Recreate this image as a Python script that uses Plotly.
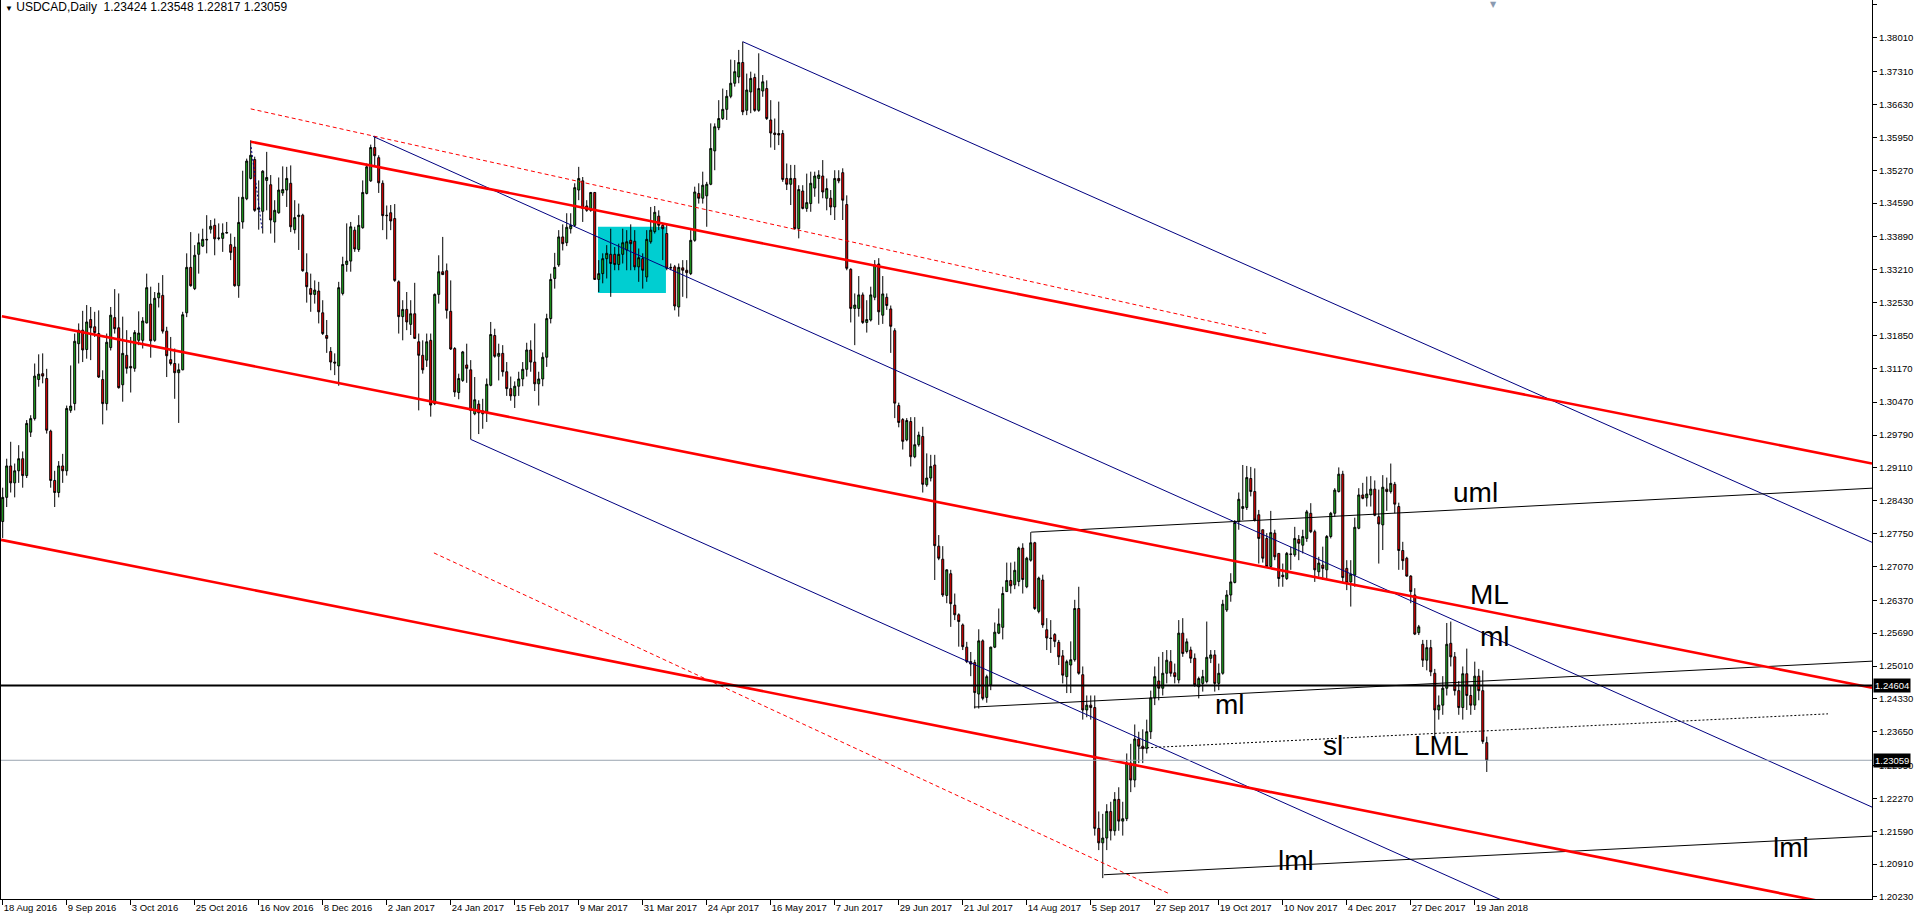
import plotly.graph_objects as go

# ---------------- data ----------------
tick_bars = [0, 16, 32, 48, 64, 80, 96, 112, 128, 144, 160, 176, 192, 208, 224, 240,
             256, 272, 288, 304, 320, 336, 352, 368]
tick_labels = ["18 Aug 2016", "9 Sep 2016", "3 Oct 2016", "25 Oct 2016", "16 Nov 2016",
               "8 Dec 2016", "2 Jan 2017", "24 Jan 2017", "15 Feb 2017", "9 Mar 2017",
               "31 Mar 2017", "24 Apr 2017", "16 May 2017", "7 Jun 2017", "29 Jun 2017",
               "21 Jul 2017", "14 Aug 2017", "5 Sep 2017", "27 Sep 2017", "19 Oct 2017",
               "10 Nov 2017", "4 Dec 2017", "27 Dec 2017", "19 Jan 2018"]
price_ticks = [1.38690, 1.38010, 1.37310, 1.36630, 1.35950, 1.35270, 1.34590, 1.33890,
               1.33210, 1.32530, 1.31850, 1.31170, 1.30470, 1.29790, 1.29110, 1.28430,
               1.27750, 1.27070, 1.26370, 1.25690, 1.25010, 1.24330, 1.23650, 1.22950,
               1.22270, 1.21590, 1.20910, 1.20230]

opens = [
 1.2800, 1.2850, 1.2915, 1.2880, 1.2905, 1.2930, 1.2895, 1.2985, 1.3013, 1.3094,
 1.3106, 1.3096, 1.2987, 1.2885, 1.2860, 1.2915, 1.2905, 1.3030, 1.3044, 1.3168,
 1.3196, 1.3156, 1.3218, 1.3203, 1.3189, 1.3094, 1.3044, 1.3160, 1.3222, 1.3201,
 1.3083, 1.3144, 1.3121, 1.3117, 1.3175, 1.3175, 1.3211, 1.3250, 1.3175, 1.3263,
 1.3268, 1.3194, 1.3135, 1.3127, 1.3108, 1.3114, 1.3232, 1.3326, 1.3282, 1.3353,
 1.3370, 1.3384, 1.3405, 1.3413, 1.3387, 1.3386, 1.3397, 1.3373, 1.3368, 1.3288,
 1.3420, 1.3468, 1.3510, 1.3549, 1.3446, 1.3442, 1.3506, 1.3497, 1.3420, 1.3439,
 1.3480, 1.3486, 1.3500, 1.3404, 1.3431, 1.3434, 1.3315, 1.3282, 1.3270, 1.3277,
 1.3232, 1.3185, 1.3152, 1.3130, 1.3122, 1.3272, 1.3332, 1.3339, 1.3403, 1.3363,
 1.3408, 1.3479, 1.3505, 1.3574, 1.3553, 1.3500, 1.3434, 1.3439, 1.3427, 1.3296,
 1.3224, 1.3239, 1.3208, 1.3230, 1.3172, 1.3144, 1.3134, 1.3175, 1.3044, 1.3270,
 1.3317, 1.3319, 1.3235, 1.3158, 1.3067, 1.3092, 1.3124, 1.3114, 1.3023, 1.3043,
 1.3023, 1.3025, 1.3082, 1.3185, 1.3142, 1.3148, 1.3110, 1.3075, 1.3060, 1.3080,
 1.3095, 1.3115, 1.3155, 1.3130, 1.3085, 1.3095, 1.3140, 1.3220, 1.3303, 1.3331,
 1.3389, 1.3377, 1.3406, 1.3413, 1.3486, 1.3505, 1.3453, 1.3444, 1.3481, 1.3301,
 1.3313, 1.3344, 1.3353, 1.3353, 1.3332, 1.3353, 1.3362, 1.3382, 1.3380, 1.3327,
 1.3344, 1.3306, 1.3379, 1.3400, 1.3432, 1.3413, 1.3396, 1.3326, 1.3327, 1.3244,
 1.3325, 1.3320, 1.3313, 1.3382, 1.3479, 1.3469, 1.3474, 1.3498, 1.3567, 1.3615,
 1.3634, 1.3653, 1.3680, 1.3707, 1.3720, 1.3750, 1.3651, 1.3689, 1.3719, 1.3651,
 1.3691, 1.3696, 1.3631, 1.3604, 1.3603, 1.3603, 1.3510, 1.3498, 1.3510, 1.3406,
 1.3484, 1.3448, 1.3458, 1.3490, 1.3510, 1.3515, 1.3469, 1.3469, 1.3451, 1.3510,
 1.3522, 1.3456, 1.3322, 1.3241, 1.3241, 1.3269, 1.3212, 1.3217, 1.3264, 1.3333,
 1.3227, 1.3264, 1.3240, 1.3195, 1.3040, 1.3011, 1.2969, 1.3007, 1.2934, 1.2959,
 1.2976, 1.2876, 1.2890, 1.2917, 1.2749, 1.2722, 1.2647, 1.2692, 1.2627, 1.2607,
 1.2586, 1.2540, 1.2510, 1.2508, 1.2443, 1.2553, 1.2436, 1.2462, 1.2540, 1.2569,
 1.2581, 1.2655, 1.2678, 1.2669, 1.2676, 1.2745, 1.2665, 1.2720, 1.2756, 1.2614,
 1.2679, 1.2576, 1.2559, 1.2566, 1.2550, 1.2522, 1.2479, 1.2503, 1.2514, 1.2620,
 1.2483, 1.2410, 1.2420, 1.2415, 1.2165, 1.2135, 1.2145, 1.2200, 1.2160, 1.2225,
 1.2180, 1.2185, 1.2300, 1.2265, 1.2350, 1.2335, 1.2330, 1.2365, 1.2435, 1.2470,
 1.2455, 1.2486, 1.2510, 1.2487, 1.2472, 1.2569, 1.2531, 1.2534, 1.2517, 1.2458,
 1.2465, 1.2469, 1.2517, 1.2524, 1.2465, 1.2486, 1.2617, 1.2648, 1.2674, 1.2800,
 1.2827, 1.2829, 1.2889, 1.2862, 1.2814, 1.2783, 1.2765, 1.2707, 1.2776, 1.2734,
 1.2689, 1.2682, 1.2733, 1.2731, 1.2763, 1.2751, 1.2765, 1.2817, 1.2779, 1.2696,
 1.2710, 1.2700, 1.2769, 1.2817, 1.2862, 1.2898, 1.2703, 1.2675, 1.2689, 1.2786,
 1.2855, 1.2849, 1.2855, 1.2867, 1.2810, 1.2793, 1.2867, 1.2862, 1.2877, 1.2831,
 1.2740, 1.2724, 1.2687, 1.2648, 1.2570, 1.2546, 1.2513, 1.2539, 1.2486, 1.2410,
 1.2420, 1.2455, 1.2548, 1.2520, 1.2450, 1.2415, 1.2485, 1.2440, 1.2420, 1.2480,
 1.2450, 1.23424]

highs = [
 1.2870, 1.2930, 1.2965, 1.2920, 1.2958, 1.2945, 1.3010, 1.3020, 1.3127, 1.3146,
 1.3148, 1.3116, 1.2990, 1.2905, 1.2925, 1.2940, 1.3040, 1.3123, 1.3189, 1.3210,
 1.3236, 1.3248, 1.3244, 1.3234, 1.3237, 1.3113, 1.3189, 1.3244, 1.3281, 1.3272,
 1.3224, 1.3196, 1.3182, 1.3196, 1.3235, 1.3223, 1.3313, 1.3286, 1.3275, 1.3294,
 1.3310, 1.3203, 1.3182, 1.3158, 1.3127, 1.3234, 1.3355, 1.3399, 1.3372, 1.3396,
 1.3406, 1.3434, 1.3424, 1.3427, 1.3417, 1.3417, 1.3420, 1.3396, 1.3389, 1.3472,
 1.3526, 1.3551, 1.3589, 1.3555, 1.3506, 1.3527, 1.3565, 1.3517, 1.3465, 1.3512,
 1.3535, 1.3534, 1.3537, 1.3465, 1.3458, 1.3437, 1.3355, 1.3313, 1.3299, 1.3296,
 1.3258, 1.3217, 1.3161, 1.3148, 1.3296, 1.3348, 1.3417, 1.3420, 1.3410, 1.3434,
 1.3506, 1.3541, 1.3580, 1.3597, 1.3558, 1.3506, 1.3454, 1.3455, 1.3457, 1.3299,
 1.3258, 1.3275, 1.3258, 1.3294, 1.3189, 1.3175, 1.3189, 1.3189, 1.3272, 1.3351,
 1.3389, 1.3334, 1.3299, 1.3161, 1.3106, 1.3153, 1.3168, 1.3134, 1.3099, 1.3051,
 1.3054, 1.3096, 1.3213, 1.3199, 1.3168, 1.3165, 1.3130, 1.3100, 1.3090, 1.3110,
 1.3130, 1.3170, 1.3175, 1.3210, 1.3110, 1.3150, 1.3230, 1.3313, 1.3356, 1.3403,
 1.3415, 1.3438, 1.3438, 1.3500, 1.3534, 1.3513, 1.3465, 1.3482, 1.3482, 1.3341,
 1.3355, 1.3372, 1.3406, 1.3368, 1.3375, 1.3406, 1.3403, 1.3415, 1.3403, 1.3365,
 1.3355, 1.3403, 1.3451, 1.3453, 1.3444, 1.3417, 1.3417, 1.3334, 1.3331, 1.3334,
 1.3341, 1.3341, 1.3403, 1.3493, 1.3500, 1.3524, 1.3503, 1.3624, 1.3624, 1.3672,
 1.3696, 1.3693, 1.3756, 1.3755, 1.3776, 1.3793, 1.3727, 1.3731, 1.3727, 1.3769,
 1.3724, 1.3713, 1.3672, 1.3634, 1.3669, 1.3610, 1.3541, 1.3538, 1.3538, 1.3496,
 1.3496, 1.3520, 1.3524, 1.3524, 1.3527, 1.3548, 1.3510, 1.3486, 1.3527, 1.3527,
 1.3531, 1.3475, 1.3324, 1.3272, 1.3308, 1.3274, 1.3258, 1.3286, 1.3341, 1.3345,
 1.3308, 1.3272, 1.3247, 1.3200, 1.3046, 1.3014, 1.3014, 1.3016, 1.3016, 1.2986,
 1.2996, 1.2941, 1.2938, 1.2938, 1.2772, 1.2749, 1.2701, 1.2700, 1.2651, 1.2610,
 1.2589, 1.2551, 1.2530, 1.2514, 1.2577, 1.2556, 1.2483, 1.2541, 1.2591, 1.2620,
 1.2665, 1.2715, 1.2715, 1.2717, 1.2748, 1.2755, 1.2727, 1.2778, 1.2758, 1.2686,
 1.2690, 1.2600, 1.2596, 1.2569, 1.2555, 1.2534, 1.2514, 1.2552, 1.2638, 1.2665,
 1.2500, 1.2440, 1.2440, 1.2440, 1.2200, 1.2195, 1.2215, 1.2220, 1.2240, 1.2250,
 1.2220, 1.2320, 1.2340, 1.2380, 1.2365, 1.2370, 1.2390, 1.2450, 1.2500, 1.2520,
 1.2530, 1.2534, 1.2534, 1.2506, 1.2596, 1.2600, 1.2558, 1.2541, 1.2527, 1.2479,
 1.2493, 1.2593, 1.2534, 1.2534, 1.2506, 1.2638, 1.2658, 1.2693, 1.2803, 1.2860,
 1.2917, 1.2915, 1.2913, 1.2910, 1.2824, 1.2783, 1.2776, 1.2822, 1.2783, 1.2734,
 1.2713, 1.2737, 1.2748, 1.2789, 1.2772, 1.2783, 1.2824, 1.2838, 1.2783, 1.2727,
 1.2748, 1.2772, 1.2820, 1.2869, 1.2912, 1.2905, 1.2720, 1.2720, 1.2808, 1.2869,
 1.2880, 1.2893, 1.2894, 1.2885, 1.2866, 1.2896, 1.2891, 1.2920, 1.2882, 1.2839,
 1.2758, 1.2727, 1.2689, 1.2662, 1.2586, 1.2555, 1.2555, 1.2555, 1.2495, 1.2440,
 1.2480, 1.2590, 1.2593, 1.2530, 1.2470, 1.2500, 1.2537, 1.2460, 1.2510, 1.2495,
 1.2492, 1.23548]

lows = [
 1.2766, 1.2830, 1.2860, 1.2850, 1.2880, 1.2870, 1.2890, 1.2975, 1.3009, 1.3079,
 1.3086, 1.2982, 1.2870, 1.2830, 1.2850, 1.2880, 1.2895, 1.3025, 1.3030, 1.3127,
 1.3130, 1.3137, 1.3134, 1.3182, 1.3097, 1.3001, 1.3030, 1.3154, 1.3189, 1.3075,
 1.3048, 1.3106, 1.3067, 1.3110, 1.3165, 1.3158, 1.3210, 1.3139, 1.3172, 1.3243,
 1.3189, 1.3099, 1.3123, 1.3054, 1.3004, 1.3113, 1.3223, 1.3286, 1.3279, 1.3313,
 1.3368, 1.3355, 1.3396, 1.3351, 1.3382, 1.3358, 1.3396, 1.3341, 1.3286, 1.3263,
 1.3406, 1.3465, 1.3508, 1.3441, 1.3404, 1.3396, 1.3444, 1.3396, 1.3377, 1.3437,
 1.3474, 1.3451, 1.3399, 1.3396, 1.3362, 1.3317, 1.3253, 1.3234, 1.3251, 1.3210,
 1.3186, 1.3149, 1.3113, 1.3103, 1.3081, 1.3268, 1.3317, 1.3317, 1.3358, 1.3358,
 1.3406, 1.3477, 1.3503, 1.3537, 1.3480, 1.3403, 1.3384, 1.3403, 1.3296, 1.3189,
 1.3175, 1.3196, 1.3186, 1.3179, 1.3030, 1.3106, 1.3120, 1.3017, 1.3041, 1.3251,
 1.3311, 1.3220, 1.3155, 1.3058, 1.3053, 1.3089, 1.3087, 1.2970, 1.3020, 1.2981,
 1.2992, 1.3006, 1.3080, 1.3139, 1.3092, 1.3100, 1.3060, 1.3050, 1.3035, 1.3060,
 1.3080, 1.3100, 1.3110, 1.3070, 1.3040, 1.3080, 1.3120, 1.3210, 1.3282, 1.3327,
 1.3361, 1.3370, 1.3396, 1.3410, 1.3465, 1.3420, 1.3441, 1.3441, 1.3300, 1.3275,
 1.3293, 1.3303, 1.3265, 1.3320, 1.3320, 1.3334, 1.3320, 1.3320, 1.3320, 1.3296,
 1.3282, 1.3296, 1.3375, 1.3396, 1.3403, 1.3341, 1.3320, 1.3320, 1.3237, 1.3224,
 1.3265, 1.3262, 1.3310, 1.3379, 1.3458, 1.3458, 1.3410, 1.3496, 1.3527, 1.3610,
 1.3631, 1.3631, 1.3676, 1.3700, 1.3707, 1.3641, 1.3641, 1.3645, 1.3648, 1.3648,
 1.3679, 1.3631, 1.3574, 1.3569, 1.3579, 1.3503, 1.3486, 1.3455, 1.3404, 1.3386,
 1.3446, 1.3441, 1.3441, 1.3472, 1.3458, 1.3469, 1.3444, 1.3434, 1.3424, 1.3500,
 1.3424, 1.3320, 1.3212, 1.3165, 1.3224, 1.3209, 1.3191, 1.3214, 1.3258, 1.3207,
 1.3209, 1.3238, 1.3149, 1.3014, 1.2995, 1.2949, 1.2966, 1.2914, 1.2931, 1.2955,
 1.2860, 1.2872, 1.2883, 1.2679, 1.2720, 1.2644, 1.2631, 1.2582, 1.2596, 1.2541,
 1.2534, 1.2507, 1.2480, 1.2413, 1.2413, 1.2430, 1.2425, 1.2451, 1.2538, 1.2567,
 1.2556, 1.2655, 1.2651, 1.2660, 1.2666, 1.2651, 1.2662, 1.2717, 1.2617, 1.2610,
 1.2580, 1.2534, 1.2528, 1.2540, 1.2503, 1.2465, 1.2445, 1.2445, 1.2510, 1.2483,
 1.2390, 1.2395, 1.2390, 1.2150, 1.2120, 1.2062, 1.2120, 1.2140, 1.2150, 1.2160,
 1.2150, 1.2180, 1.2240, 1.2250, 1.2300, 1.2300, 1.2320, 1.2350, 1.2420, 1.2430,
 1.2440, 1.2465, 1.2479, 1.2465, 1.2465, 1.2520, 1.2527, 1.2507, 1.2458, 1.2434,
 1.2448, 1.2465, 1.2507, 1.2448, 1.2451, 1.2483, 1.2613, 1.2634, 1.2672, 1.2783,
 1.2803, 1.2824, 1.2852, 1.2800, 1.2713, 1.2715, 1.2704, 1.2704, 1.2720, 1.2665,
 1.2665, 1.2679, 1.2700, 1.2727, 1.2720, 1.2734, 1.2758, 1.2776, 1.2675, 1.2686,
 1.2679, 1.2679, 1.2765, 1.2810, 1.2860, 1.2675, 1.2658, 1.2624, 1.2665, 1.2784,
 1.2846, 1.2831, 1.2831, 1.2811, 1.2713, 1.2741, 1.2822, 1.2858, 1.2817, 1.2700,
 1.2700, 1.2686, 1.2631, 1.2565, 1.2565, 1.2499, 1.2492, 1.2480, 1.2355, 1.2390,
 1.2400, 1.2440, 1.2500, 1.2440, 1.2400, 1.2390, 1.2410, 1.2400, 1.2410, 1.2430,
 1.2340, 1.22817]

closes = [
 1.2850, 1.2915, 1.2880, 1.2905, 1.2930, 1.2895, 1.3003, 1.3013, 1.3101, 1.3105,
 1.3101, 1.2989, 1.2885, 1.2860, 1.2915, 1.2905, 1.3034, 1.3039, 1.3173, 1.3196,
 1.3155, 1.3213, 1.3201, 1.3191, 1.3099, 1.3044, 1.3171, 1.3227, 1.3199, 1.3077,
 1.3148, 1.3117, 1.3118, 1.3191, 1.3190, 1.3215, 1.3284, 1.3174, 1.3262, 1.3273,
 1.3194, 1.3143, 1.3127, 1.3108, 1.3114, 1.3228, 1.3326, 1.3288, 1.3351, 1.3377,
 1.3384, 1.3383, 1.3411, 1.3385, 1.3386, 1.3397, 1.3398, 1.3357, 1.3288, 1.3419,
 1.3471, 1.3546, 1.3558, 1.3444, 1.3449, 1.3525, 1.3512, 1.3424, 1.3444, 1.3486,
 1.3487, 1.3510, 1.3410, 1.3429, 1.3434, 1.3319, 1.3286, 1.3270, 1.3279, 1.3234,
 1.3189, 1.3179, 1.3130, 1.3128, 1.3284, 1.3332, 1.3339, 1.3410, 1.3364, 1.3413,
 1.3481, 1.3534, 1.3574, 1.3557, 1.3501, 1.3433, 1.3433, 1.3422, 1.3299, 1.3224,
 1.3239, 1.3213, 1.3230, 1.3179, 1.3144, 1.3114, 1.3172, 1.3041, 1.3270, 1.3317,
 1.3311, 1.3237, 1.3157, 1.3068, 1.3096, 1.3151, 1.3117, 1.3030, 1.3052, 1.3025,
 1.3029, 1.3084, 1.3187, 1.3142, 1.3148, 1.3110, 1.3075, 1.3060, 1.3080, 1.3095,
 1.3115, 1.3155, 1.3130, 1.3085, 1.3095, 1.3140, 1.3220, 1.3301, 1.3326, 1.3389,
 1.3375, 1.3409, 1.3413, 1.3491, 1.3510, 1.3448, 1.3444, 1.3481, 1.3301, 1.3313,
 1.3344, 1.3355, 1.3334, 1.3332, 1.3353, 1.3377, 1.3379, 1.3375, 1.3327, 1.3346,
 1.3320, 1.3384, 1.3403, 1.3440, 1.3413, 1.3406, 1.3324, 1.3325, 1.3246, 1.3326,
 1.3320, 1.3315, 1.3382, 1.3482, 1.3469, 1.3496, 1.3498, 1.3572, 1.3617, 1.3634,
 1.3653, 1.3680, 1.3707, 1.3731, 1.3750, 1.3648, 1.3693, 1.3717, 1.3651, 1.3696,
 1.3710, 1.3634, 1.3604, 1.3601, 1.3600, 1.3508, 1.3498, 1.3510, 1.3406, 1.3487,
 1.3448, 1.3460, 1.3500, 1.3515, 1.3517, 1.3482, 1.3489, 1.3451, 1.3510, 1.3505,
 1.3465, 1.3324, 1.3241, 1.3248, 1.3269, 1.3212, 1.3218, 1.3269, 1.3331, 1.3234,
 1.3271, 1.3247, 1.3204, 1.3045, 1.3005, 1.2966, 1.3009, 1.2934, 1.2959, 1.2979,
 1.2877, 1.2890, 1.2914, 1.2750, 1.2724, 1.2648, 1.2700, 1.2630, 1.2607, 1.2593,
 1.2541, 1.2510, 1.2505, 1.2446, 1.2553, 1.2434, 1.2479, 1.2540, 1.2571, 1.2588,
 1.2651, 1.2678, 1.2667, 1.2699, 1.2745, 1.2680, 1.2724, 1.2756, 1.2620, 1.2683,
 1.2586, 1.2559, 1.2558, 1.2552, 1.2520, 1.2482, 1.2510, 1.2514, 1.2620, 1.2486,
 1.2410, 1.2420, 1.2415, 1.2165, 1.2135, 1.2145, 1.2200, 1.2160, 1.2225, 1.2180,
 1.2185, 1.2300, 1.2265, 1.2350, 1.2335, 1.2330, 1.2365, 1.2435, 1.2479, 1.2455,
 1.2486, 1.2513, 1.2486, 1.2479, 1.2569, 1.2527, 1.2551, 1.2517, 1.2462, 1.2475,
 1.2479, 1.2519, 1.2524, 1.2465, 1.2486, 1.2629, 1.2648, 1.2675, 1.2798, 1.2846,
 1.2831, 1.2891, 1.2862, 1.2803, 1.2765, 1.2724, 1.2707, 1.2777, 1.2727, 1.2682,
 1.2686, 1.2734, 1.2732, 1.2765, 1.2755, 1.2769, 1.2820, 1.2779, 1.2700, 1.2714,
 1.2703, 1.2769, 1.2817, 1.2865, 1.2898, 1.2684, 1.2673, 1.2691, 1.2788, 1.2855,
 1.2848, 1.2857, 1.2867, 1.2813, 1.2795, 1.2871, 1.2862, 1.2879, 1.2836, 1.2740,
 1.2719, 1.2687, 1.2655, 1.2567, 1.2582, 1.2513, 1.2539, 1.2489, 1.2410, 1.2420,
 1.2455, 1.2546, 1.2520, 1.2450, 1.2415, 1.2485, 1.2440, 1.2420, 1.2480, 1.2450,
 1.2345, 1.23059]

# drawn objects: (bar index, price) anchor pairs
red_upper = [(62.0, 1.3586), (467.3, 1.2920)]
red_median = [(-0.2, 1.3225), (467.3, 1.2456)]
red_lower = [(-0.4, 1.2762), (467.3, 1.1993)]
red_dash_upper = [(62.0, 1.3654), (316.3, 1.3188)]
red_dash_lower = [(107.8, 1.2735), (291.8, 1.2029)]
blue_upper = [(185.0, 1.3793), (467.3, 1.2757)]
blue_median = [(92.6, 1.3597), (467.3, 1.2209)]
blue_lower = [(117.0, 1.2970), (467.3, 1.1674)]
blue_handle = [(62.1, 1.3575), (64.8, 1.3407)]
black_uml = [(257.1, 1.2778), (467.3, 1.2869)]
black_ml = [(242.8, 1.2416), (467.3, 1.2511)]
black_sl = [(284.1, 1.2331), (456.3, 1.2402)]
black_lml = [(275.3, 1.2069), (467.3, 1.2149)]
hline_level = 1.24604
bid_level = 1.23059
box_zone = dict(x0=148.8, x1=165.8, y0=1.3273, y1=1.3410)
shift_marker_bar = 372.8

line_labels = [("uml", 368.1, 1.2861), ("ML", 371.8, 1.2648), ("ml", 373.1, 1.2563),
               ("ml", 306.8, 1.2422), ("sl", 332.6, 1.2336), ("lml", 323.3, 1.2098),
               ("LML", 359.6, 1.2336), ("lml", 447.1, 1.2126)]

title_text = "USDCAD,Daily\u00a0\u00a01.23424 1.23548 1.22817 1.23059"

# ---------------- figure ----------------
bars = list(range(len(closes)))
fig = go.Figure()

fig.add_shape(type="rect", xref="x", yref="y", layer="below",
              x0=box_zone["x0"], x1=box_zone["x1"], y0=box_zone["y0"], y1=box_zone["y1"],
              fillcolor="#00CED1", line=dict(width=0))

fig.add_trace(go.Candlestick(
    x=bars, open=opens, high=highs, low=lows, close=closes,
    increasing=dict(line=dict(color="black", width=1), fillcolor="#22B822"),
    decreasing=dict(line=dict(color="black", width=1), fillcolor="#FF0000"),
    whiskerwidth=0, showlegend=False, hoverinfo="skip"))


def seg(pts, color, width, dash="solid"):
    fig.add_trace(go.Scatter(x=[p[0] for p in pts], y=[p[1] for p in pts], mode="lines",
                             line=dict(color=color, width=width, dash=dash),
                             showlegend=False, hoverinfo="skip"))


seg(red_dash_upper, "#FF0000", 1, "4px,3px")
seg(red_dash_lower, "#FF0000", 1, "4px,3px")
seg(blue_upper, "#000080", 1)
seg(blue_median, "#000080", 1)
seg(blue_lower, "#000080", 1)
seg(blue_handle, "#000080", 1, "2px,2px")
seg(black_uml, "black", 1)
seg(black_ml, "black", 1)
seg(black_sl, "black", 1, "2px,2px")
seg(black_lml, "black", 1)
seg(red_upper, "#FF0000", 2.6)
seg(red_median, "#FF0000", 2.6)
seg(red_lower, "#FF0000", 2.6)

fig.add_shape(type="line", xref="paper", yref="y", x0=0, x1=1, y0=bid_level, y1=bid_level,
              line=dict(color="#9AA4B0", width=1))
fig.add_shape(type="line", xref="paper", yref="y", x0=0, x1=1, y0=hline_level, y1=hline_level,
              line=dict(color="black", width=2))

for txt, bx, py in line_labels:
    fig.add_annotation(x=bx, y=py, xref="x", yref="y", text=txt, showarrow=False,
                       xanchor="center", yanchor="middle",
                       font=dict(family="Liberation Sans, Arial", size=28, color="black"))

for lvl in (hline_level, bid_level):
    fig.add_annotation(x=1, y=lvl, xref="paper", yref="y", text="%.5f" % lvl,
                       showarrow=False, xanchor="left", yanchor="middle", xshift=1,
                       bgcolor="black", borderpad=1,
                       font=dict(family="Liberation Sans, Arial", size=9.5, color="white"))

fig.add_annotation(x=0, y=1, xref="paper", yref="paper", showarrow=False,
                   xanchor="left", yanchor="top", xshift=2, yshift=2,
                   text="<span style='font-size:8px'>\u25BC</span> " + title_text,
                   font=dict(family="Liberation Sans, Arial", size=12, color="black"))

fig.add_annotation(x=shift_marker_bar, y=1, xref="x", yref="paper", showarrow=False,
                   xanchor="center", yanchor="top", yshift=2, text="\u25BC",
                   font=dict(family="DejaVu Sans", size=8, color="#8A9AB0"))

fig.update_layout(
    width=1917, height=919,
    margin=dict(l=1, r=45, t=0, b=20, autoexpand=False),
    paper_bgcolor="white", plot_bgcolor="white",
    showlegend=False,
    boxgap=0.3,
    xaxis=dict(range=[-0.425, 467.3], rangeslider=dict(visible=False),
               tickmode="array", tickvals=tick_bars, ticktext=tick_labels,
               ticks="outside", ticklen=5, tickcolor="black", tickangle=0,
               ticklabelposition="outside right", automargin=False,
               showline=True, linecolor="black", linewidth=1,
               showgrid=False, zeroline=False,
               tickfont=dict(family="Liberation Sans, Arial", size=9.5, color="black")),
    yaxis=dict(range=[1.20188, 1.38793], side="right", automargin=False,
               tickmode="array", tickvals=price_ticks,
               ticktext=["%.5f" % v for v in price_ticks],
               ticks="outside", ticklen=4, tickcolor="black",
               showline=True, linecolor="black", linewidth=1, mirror=True,
               showgrid=False, zeroline=False,
               tickfont=dict(family="Liberation Sans, Arial", size=9.5, color="black")),
)

fig.write_html("out.html", config={"displayModeBar": False},
               post_script="document.body.style.margin='0';")
